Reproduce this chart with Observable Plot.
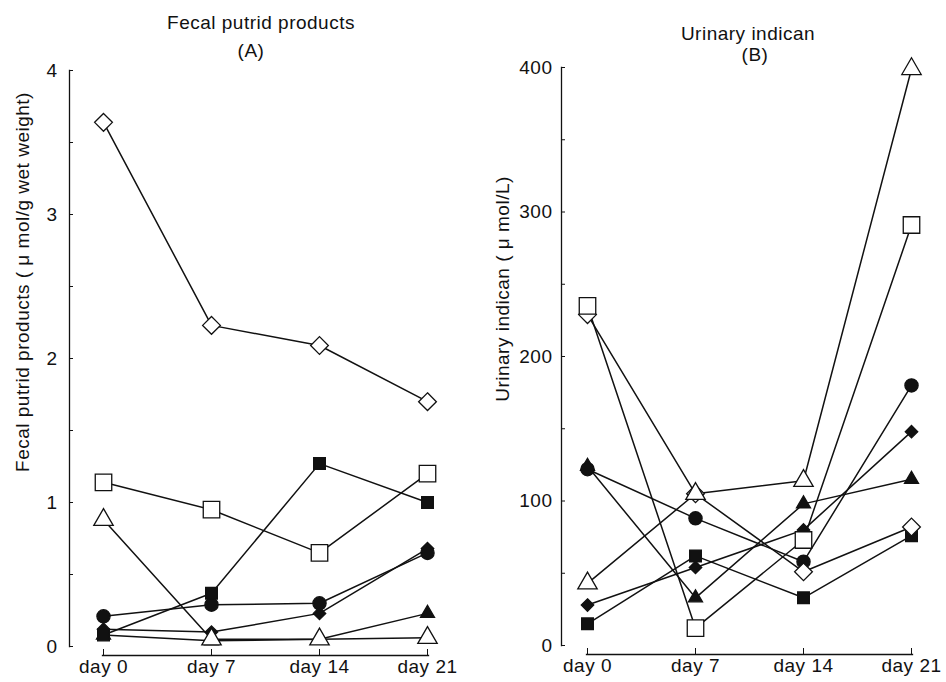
<!DOCTYPE html>
<html>
<head>
<meta charset="utf-8">
<script src="https://cdn.jsdelivr.net/npm/d3@7"></script>
<script src="https://cdn.jsdelivr.net/npm/@observablehq/plot@0.6"></script>
<style>
  body { margin: 0; background: #fff; }
  #wrap { display: flex; width: 946px; height: 682px; }
  svg text { letter-spacing: 0.5px; }
</style>
</head>
<body>
<div id="wrap"></div>
<script>
// ---------- data ----------
const days = ["day 0", "day 7", "day 14", "day 21"];
const seriesNames = ["open diamond", "open square", "open triangle", "filled square", "filled circle", "filled diamond", "filled triangle"];

// Panel A: fecal putrid products (µmol/g wet weight)
const fecalOpenDiamond   = [3.64, 2.23, 2.09, 1.70];
const fecalOpenSquare    = [1.14, 0.95, 0.65, 1.20];
const fecalOpenTriangle  = [0.88, 0.05, 0.05, 0.06];
const fecalFilledSquare  = [0.08, 0.37, 1.27, 1.00];
const fecalFilledCircle  = [0.21, 0.29, 0.30, 0.65];
const fecalFilledDiamond = [0.12, 0.10, 0.23, 0.68];
const fecalFilledTriangle= [0.08, 0.04, 0.05, 0.23];
const fecalTicks = [0, 0.5, 1, 1.5, 2, 2.5, 3, 3.5, 4];
const fecalTickLabels = ["0", "", "1", "", "2", "", "3", "", "4"];

// Panel B: urinary indican (µmol/L)
const urinaryOpenDiamond   = [229, 105, 51, 82];
const urinaryOpenSquare    = [235, 12, 73, 291];
const urinaryOpenTriangle  = [43, 105, 114, 399];
const urinaryFilledSquare  = [15, 62, 33, 76];
const urinaryFilledCircle  = [122, 88, 58, 180];
const urinaryFilledDiamond = [28, 54, 80, 148];
const urinaryFilledTriangle= [124, 33, 98, 115];
const urinaryTicks = [0, 50, 100, 150, 200, 250, 300, 350, 400];
const urinaryTickLabels = ["0", "", "100", "", "200", "", "300", "", "400"];

// ---------- styles ----------
const FS = 19;
const markerStyle = {
  "open diamond":    {symbol: "diamond2", fill: "white", r: 8},
  "open square":     {symbol: "square",   fill: "white", r: 9.3},
  "open triangle":   {symbol: "triangle", fill: "white", r: 7.2},
  "filled square":   {symbol: "square",   fill: "#111",  r: 6.6},
  "filled circle":   {symbol: "circle",   fill: "#111",  r: 6.6},
  "filled diamond":  {symbol: "diamond2", fill: "#111",  r: 5.6},
  "filled triangle": {symbol: "triangle", fill: "#111",  r: 5.2}
};
const drawOrder = ["filled diamond", "filled triangle", "filled circle", "filled square", "open diamond", "open square", "open triangle"];

function makePanel(o) {
  const rows = [];
  seriesNames.forEach((s, i) => o.values[i].forEach((v, j) => rows.push({s, day: days[j], v})));
  const marks = [
    Plot.frame({anchor: "left", insetBottom: o.insetBottom, stroke: "#111", strokeWidth: 1.3}),
    Plot.frame({anchor: "bottom", insetLeft: o.insetLeft, stroke: "#111", strokeWidth: 1.3}),
    Plot.axisY({ticks: o.ticks, tickSize: -4, tickPadding: o.tickPad, fontSize: FS, tickFormat: d => o.tickLabels[o.ticks.indexOf(d)], label: null, stroke: "#111"}),
    Plot.axisX({ticks: days, tickSize: -6, tickPadding: 10, fontSize: FS, label: null, stroke: "#111"}),
    Plot.line(rows, {x: "day", y: "v", z: "s", stroke: "#111", strokeWidth: 1.5})
  ];
  for (const s of drawOrder) {
    const st = markerStyle[s];
    marks.push(Plot.dot(rows.filter(d => d.s === s), {x: "day", y: "v", symbol: st.symbol, fill: st.fill, r: st.r, stroke: "#111", strokeWidth: 1.3}));
  }
  marks.push(Plot.text([o.title[0]], {frameAnchor: "top", lineAnchor: "middle", textAnchor: "middle", dx: o.titleDx[0], dy: o.titleDy[0], fontSize: FS, fill: "#111"}));
  marks.push(Plot.text([o.title[1]], {frameAnchor: "top", lineAnchor: "middle", textAnchor: "middle", dx: o.titleDx[1], dy: o.titleDy[1], fontSize: FS, fill: "#111"}));
  marks.push(Plot.text([o.ylabel], {frameAnchor: "left", lineAnchor: "middle", textAnchor: "middle", rotate: -90, dx: o.ylabelDx, dy: o.ylabelDy, fontSize: FS, fill: "#111"}));
  return Plot.plot({
    width: 473, height: 682,
    marginLeft: o.marginLeft, marginRight: o.marginRight, marginTop: o.marginTop, marginBottom: o.marginBottom,
    x: {type: "point", domain: days, padding: 0, insetLeft: o.insetLeft, axis: null},
    y: {domain: [o.ticks[0], o.ticks[o.ticks.length - 1]], insetBottom: o.insetBottom, axis: null},
    style: {fontFamily: "'Liberation Sans', Arial, Helvetica, sans-serif", fontSize: "19px", color: "#111", background: "white", overflow: "visible"},
    marks
  });
}

const wrap = document.getElementById("wrap");
wrap.appendChild(makePanel({
  values: [fecalOpenDiamond, fecalOpenSquare, fecalOpenTriangle, fecalFilledSquare, fecalFilledCircle, fecalFilledDiamond, fecalFilledTriangle],
  ticks: fecalTicks, tickLabels: fecalTickLabels, tickPad: 16,
  marginLeft: 69, marginRight: 45, marginTop: 70, marginBottom: 27, insetLeft: 33, insetBottom: 9,
  title: ["Fecal putrid products", "(A)"], titleDx: [12, 2], titleDy: [-48, -20],
  ylabel: "Fecal putrid products ( μ mol/g wet weight)", ylabelDx: -47, ylabelDy: -81
}));
wrap.appendChild(makePanel({
  values: [urinaryOpenDiamond, urinaryOpenSquare, urinaryOpenTriangle, urinaryFilledSquare, urinaryFilledCircle, urinaryFilledDiamond, urinaryFilledTriangle],
  ticks: urinaryTicks, tickLabels: urinaryTickLabels, tickPad: 13,
  marginLeft: 88, marginRight: 34, marginTop: 67, marginBottom: 28, insetLeft: 25, insetBottom: 9,
  title: ["Urinary indican", "(B)"], titleDx: [11, 18], titleDy: [-34, -13],
  ylabel: "Urinary indican ( μ mol/L)", ylabelDx: -59, ylabelDy: -72
}));
</script>
</body>
</html>
